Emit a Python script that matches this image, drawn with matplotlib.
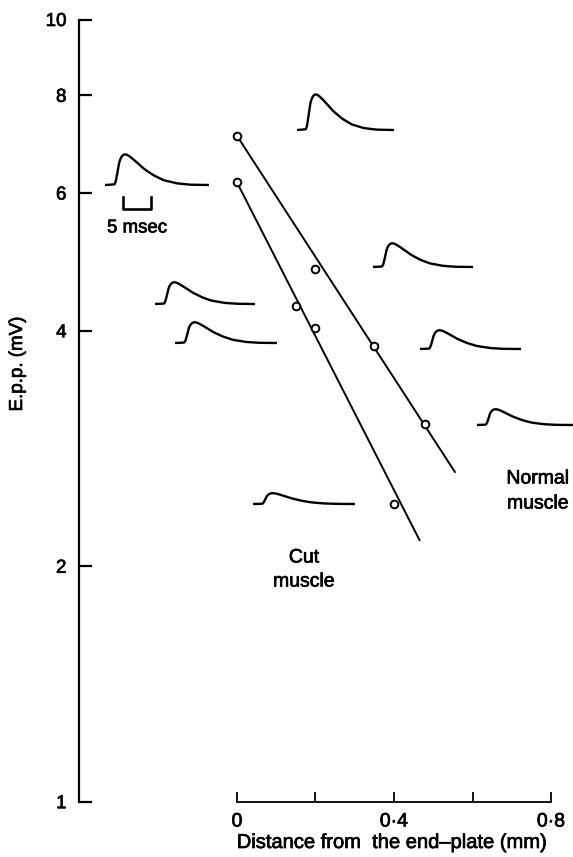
import matplotlib
matplotlib.use("Agg")
import matplotlib.pyplot as plt
import matplotlib.patheffects as pe
import numpy as np

plt.rcParams['font.family'] = ['Liberation Sans', 'DejaVu Sans']

# Measured end-plate potentials (mV) against distance from the end-plate (mm)
normal_x = [0.0, 0.2, 0.35, 0.48]
normal_y = [7.1, 4.8, 3.82, 3.04]
cut_x = [0.0, 0.15, 0.2, 0.4]
cut_y = [6.19, 4.30, 4.03, 2.40]

# Fitted regression lines (end points)
normal_fit_x = [0.0, 0.555]
normal_fit_y = [7.1, 2.64]
cut_fit_x = [0.0, 0.465]
cut_fit_y = [6.19, 2.16]

y_ticks = [1, 2, 4, 6, 8, 10]
y_ticklabels = ['1', '2', '4', '6', '8', '10']
x_ticks = [0.0, 0.2, 0.4, 0.6, 0.8]
x_ticklabels = ['0', '', '0·4', '', '0·8']

# Normalised e.p.p. waveform (time fraction, amplitude fraction)
wave_t = [0.0, 0.096, 0.105, 0.112, 0.125, 0.144, 0.166, 0.192, 0.224, 0.272,
          0.367, 0.463, 0.559, 0.687, 0.815, 1.0]
wave_v = [0.0, 0.02, 0.05, 0.215, 0.59, 0.83, 0.957, 1.0, 0.957, 0.83,
          0.54, 0.32, 0.16, 0.054, 0.01, 0.0]

W, H = 573, 857
fig = plt.figure(figsize=(W / 100, H / 100), dpi=100)

# slightly heavier lettering, like the printed figure
heavy = [pe.withStroke(linewidth=0.5, foreground='black')]

x0_px, y1_px, y10_px = 79, 801.7, 19.5
ax = fig.add_axes([x0_px / W, (H - y1_px) / H, (W - x0_px) / W, (y1_px - y10_px) / H])
ax.set_yscale('log')
ax.set_ylim(1, 10)
ax.set_xlim(-0.4025, 0.856)

for s in ('top', 'right'):
    ax.spines[s].set_visible(False)
ax.spines['left'].set_linewidth(1.6)
ax.spines['bottom'].set_linewidth(1.3)
ax.spines['left'].set_bounds(1, 10)
ax.spines['bottom'].set_bounds(0, 0.8)

ax.set_yticks(y_ticks)
ax.set_yticklabels(y_ticklabels)
ax.yaxis.set_minor_locator(matplotlib.ticker.NullLocator())
ax.set_xticks(x_ticks)
ax.set_xticklabels(x_ticklabels)
ax.tick_params(axis='y', direction='in', length=9.5, width=1.6, pad=9, labelsize=13.5)
ax.tick_params(axis='x', direction='in', length=7.5, width=1.3, pad=8.5, labelsize=14)
for lab in ax.get_xticklabels() + ax.get_yticklabels():
    lab.set_path_effects(heavy)

ax.set_xlabel('Distance from  the end–plate (mm)', fontsize=14.5, path_effects=heavy)
ax.xaxis.set_label_coords((392 - x0_px) / (W - x0_px), (y1_px - 833) / (y1_px - y10_px))
ax.set_ylabel('E.p.p. (mV)', fontsize=13.5, path_effects=heavy)
ax.yaxis.set_label_coords((26 - x0_px) / (W - x0_px), (y1_px - 364) / (y1_px - y10_px))

# Regression lines and data points
ax.plot(normal_fit_x, normal_fit_y, color='black', lw=1.4, zorder=2)
ax.plot(cut_fit_x, cut_fit_y, color='black', lw=1.4, zorder=2)
ax.plot(normal_x, normal_y, 'o', ms=5.5, mfc='white', mec='black', mew=1.4, zorder=3)
ax.plot(cut_x, cut_y, 'o', ms=5.5, mfc='white', mec='black', mew=1.4, zorder=3)

# Overlay in pixel coordinates for the inset recordings and labels
ov = fig.add_axes([0, 0, 1, 1])
ov.set_xlim(0, W)
ov.set_ylim(H, 0)
ov.axis('off')
ov.patch.set_alpha(0)

# (start x, baseline y, width, amplitude) in pixels
traces = [
    (105, 185, 104, 31),
    (297, 130, 97, 36),
    (155, 304, 100, 22),
    (175, 343, 102, 21),
    (373, 267, 100, 24),
    (420, 349, 101, 19),
    (477, 425, 96, 16),
    (253, 504, 102, 11),
]
t = np.asarray(wave_t)
v = np.asarray(wave_v)
tt = np.linspace(0, 1, 200)
vv = np.interp(tt, t, v)
vv = np.convolve(np.pad(vv, 3, mode='edge'), np.ones(7) / 7, mode='valid')
for sx, by, w, a in traces:
    ov.plot(sx + tt * w, by - vv * a, color='black', lw=1.7, solid_capstyle='butt')

# time scale bar
ov.plot([123, 123, 151, 151], [197, 209, 209, 197], color='black', lw=1.9)
ov.text(137, 228, '5 msec', ha='center', va='center', fontsize=13.4, path_effects=heavy)

for x, y, s in [(538, 479, 'Normal'), (538, 504, 'muscle'),
                (304, 558, 'Cut'), (304, 582, 'muscle')]:
    ov.text(x, y, s, ha='center', va='center', fontsize=14, path_effects=heavy)

fig.savefig('out.png', dpi=100)
